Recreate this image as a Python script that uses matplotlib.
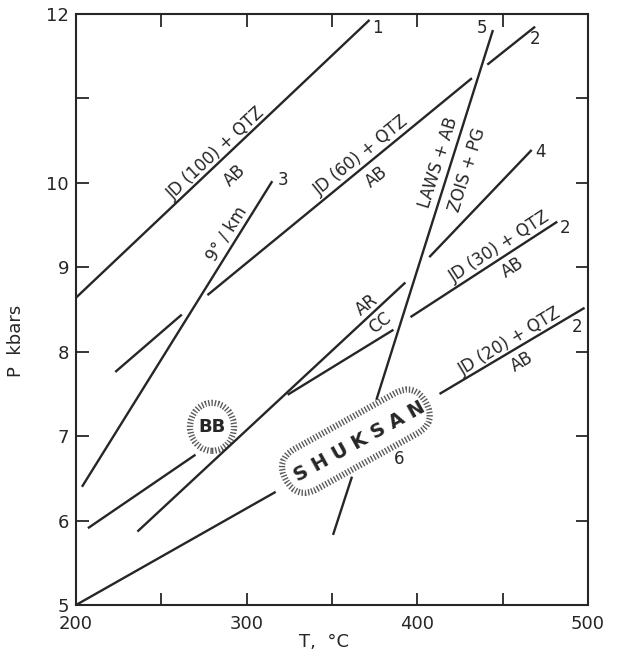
import matplotlib
matplotlib.use("Agg")
import matplotlib.pyplot as plt
import matplotlib.transforms as mtransforms
from matplotlib.patches import FancyBboxPatch, Ellipse

plt.rcParams["font.family"] = ["DejaVu Sans"]

# --- reaction lines (T in degC, P in kbar); gaps split into segments ---
jd100_T = [[200, 372]]
jd100_P = [[8.64, 11.93]]
jd60_T = [[223, 262], [277, 432], [441, 469]]
jd60_P = [[7.76, 8.44], [8.67, 11.24], [11.40, 11.85]]
grad9_T = [[203.5, 315]]
grad9_P = [[6.40, 10.02]]
line4_T = [[407, 467]]
line4_P = [[9.12, 10.39]]
laws_T = [[444.3, 376], [361.7, 350.6]]
laws_P = [[11.81, 7.43], [6.52, 5.83]]
arcc_T = [[236, 393]]
arcc_P = [[5.87, 8.82]]
jd30_T = [[207, 270], [324, 386], [396, 482]]
jd30_P = [[5.91, 6.78], [7.49, 8.26], [8.41, 9.54]]
jd20_T = [[200, 317], [413, 498]]
jd20_P = [[5.00, 6.34], [7.50, 8.52]]

# --- text labels: (text, T, P, rotation) ---
labels = [
    ("JD (100) + QTZ", 282.0, 10.35, 43),
    ("AB", 293.2, 10.09, 43),
    ("9° / km", 288.0, 9.40, 58),
    ("JD (60) + QTZ", 367.0, 10.32, 39),
    ("AB", 376.4, 10.07, 39),
    ("LAWS + AB", 412.1, 10.24, 72.5),
    ("ZOIS + PG", 429.1, 10.15, 72.5),
    ("AR", 370.5, 8.55, 38),
    ("CC", 378.1, 8.34, 38),
    ("JD (30) + QTZ", 448.4, 9.24, 33),
    ("AB", 456.0, 9.00, 33),
    ("JD (20) + QTZ", 454.3, 8.12, 31),
    ("AB", 461.3, 7.88, 31),
]
numbers = [
    ("1", 376.6, 11.84),
    ("2", 469.0, 11.70),
    ("3", 321.3, 10.03),
    ("4", 471.9, 10.37),
    ("5", 437.9, 11.83),
    ("2", 486.5, 9.47),
    ("2", 493.5, 8.29),
    ("6", 389.3, 6.73),
]

# areas
shuksan_T, shuksan_P = 364.0, 6.94
bb_T, bb_P = 279.7, 7.11

fig = plt.figure(figsize=(6.19, 6.57), dpi=100)
ax = fig.add_axes([76 / 619, 52 / 657, 512 / 619, 591 / 657])

ink = "#262626"
for Ts, Ps in [(jd100_T, jd100_P), (jd60_T, jd60_P), (grad9_T, grad9_P),
               (line4_T, line4_P), (laws_T, laws_P), (arcc_T, arcc_P),
               (jd30_T, jd30_P), (jd20_T, jd20_P)]:
    for t, p in zip(Ts, Ps):
        ax.plot(t, p, color=ink, lw=1.7, solid_capstyle="butt")

for txt, t, p, rot in labels:
    ax.text(t, p, txt, rotation=rot, rotation_mode="anchor", ha="center",
            va="center", fontsize=12, color=ink)
for txt, t, p in numbers:
    ax.text(t, p, txt, ha="center", va="center", fontsize=12, color=ink)

# hatched outlines (display-pixel shapes placed at data points)
hatch = dict(fill=False, edgecolor="#5a5a5a", lw=4.5, linestyle=(0, (0.22, 0.3)),
             capstyle="butt")
L, H = 160, 46
box = FancyBboxPatch((-L / 2, -H / 2), L, H,
                     boxstyle=f"round,pad=0,rounding_size={H / 2}", **hatch)
box.set_transform(mtransforms.Affine2D().rotate_deg(29)
                  + mtransforms.ScaledTranslation(shuksan_T, shuksan_P, ax.transData))
ax.add_patch(box)
ax.text(shuksan_T + 2, shuksan_P, "S H U K S A N", rotation=29,
        rotation_mode="anchor", ha="center", va="center", fontsize=14,
        fontweight="bold", color=ink)

circ = Ellipse((0, 0), 44, 48, **hatch)
circ.set_transform(mtransforms.ScaledTranslation(bb_T, bb_P, ax.transData))
ax.add_patch(circ)
ax.text(bb_T, bb_P, "BB", ha="center", va="center", fontsize=13,
        fontweight="bold", color=ink)

ax.set_xlim(200, 500)
ax.set_ylim(5, 12)
ax.set_xticks([200, 250, 300, 350, 400, 450, 500])
ax.set_xticklabels(["200", "", "300", "", "400", "", "500"])
ax.set_yticks([5, 6, 7, 8, 9, 10, 11, 12])
ax.set_yticklabels(["5", "6", "7", "8", "9", "10", "", "12"])
ax.tick_params(direction="in", length=9, width=1.3, top=True, right=True,
               labelsize=13, colors=ink)
ax.tick_params(axis="x", pad=7)
ax.tick_params(axis="y", pad=5)
for s in ax.spines.values():
    s.set_linewidth(1.5)
    s.set_color(ink)

ax.set_xlabel("T,  °C", fontsize=13, color=ink)
ax.xaxis.set_label_coords(0.484, -0.047)
ax.set_ylabel("P  kbars", fontsize=13, color=ink)
ax.yaxis.set_label_coords(-0.1, 0.447)

fig.savefig("out.png", dpi=100)
